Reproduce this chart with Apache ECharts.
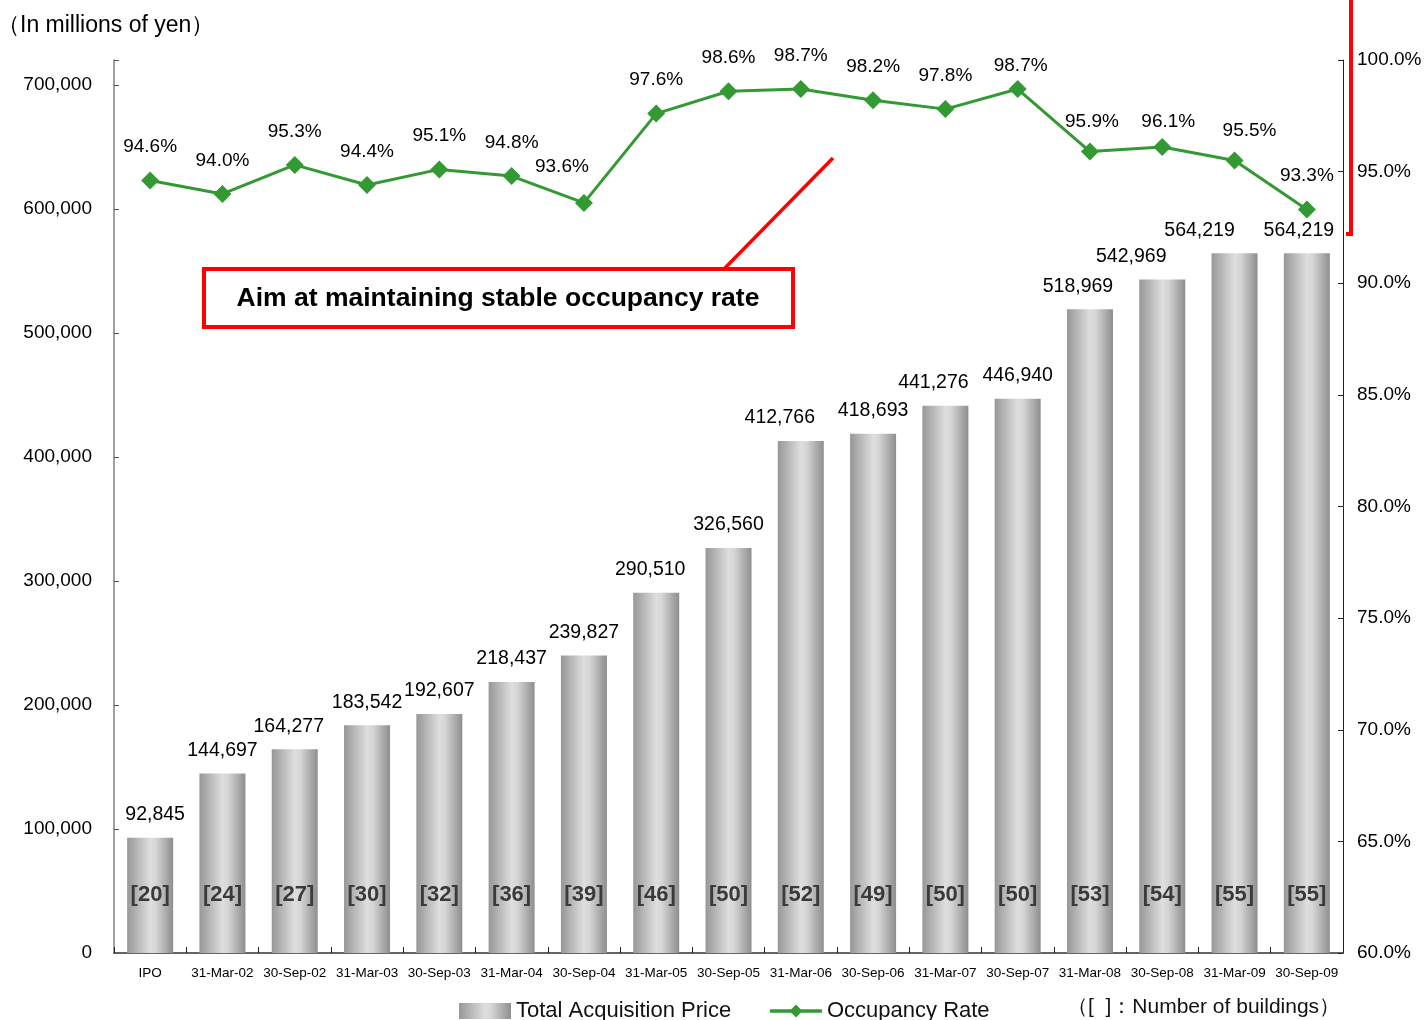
<!DOCTYPE html>
<html>
<head>
<meta charset="utf-8">
<title>Total Acquisition Price and Occupancy Rate</title>
<script src="https://cdn.jsdelivr.net/npm/echarts@6/dist/echarts.min.js"></script>
<style>
  html, body { margin: 0; padding: 0; background: #fff; }
  #chart { width: 1426px; height: 1020px; }
</style>
</head>
<body>
<div id="chart"></div>
<script>
// Period-end dates
const periods = ['IPO', '31-Mar-02', '30-Sep-02', '31-Mar-03', '30-Sep-03', '31-Mar-04',
  '30-Sep-04', '31-Mar-05', '30-Sep-05', '31-Mar-06', '30-Sep-06', '31-Mar-07',
  '30-Sep-07', '31-Mar-08', '30-Sep-08', '31-Mar-09', '30-Sep-09'];

// Total acquisition price (millions of yen)
const acquisitionPrice = [92845, 144697, 164277, 183542, 192607, 218437, 239827, 290510,
  326560, 412766, 418693, 441276, 446940, 518969, 542969, 564219, 564219];

// Number of buildings held
const buildings = [20, 24, 27, 30, 32, 36, 39, 46, 50, 52, 49, 50, 50, 53, 54, 55, 55];

// Occupancy rate (%)
const occupancyRate = [94.6, 94.0, 95.3, 94.4, 95.1, 94.8, 93.6, 97.6, 98.6, 98.7, 98.2,
  97.8, 98.7, 95.9, 96.1, 95.5, 93.3];

// Axis tick values
const priceTicks = [0, 100000, 200000, 300000, 400000, 500000, 600000, 700000];
const rateTicks = [60, 65, 70, 75, 80, 85, 90, 95, 100];

const FONT = "'Liberation Sans', Arial, sans-serif";
const GREEN = '#339933';

const chart = echarts.init(document.getElementById('chart'), null, { renderer: 'canvas' });

const barFill = new echarts.graphic.LinearGradient(0, 0, 1, 0, [
  { offset: 0, color: '#979797' },
  { offset: 0.5, color: '#dedede' },
  { offset: 0.62, color: '#d6d6d6' },
  { offset: 1, color: '#8e8e8e' }
]);

// a few hand-placed value labels sit a little off their bars
const priceLabelShift = { 0: 5, 9: -21, 11: -12, 13: -12, 14: -31, 15: -35, 16: -8, 7: -6, 2: -6 };
const rateLabelShift = { 6: [-22, -3], 12: [3, 10], 14: [6, 8], 15: [15, 4], 13: [2, 4] };

const fmtThousands = v => String(v).replace(/\B(?=(\d{3})+(?!\d))/g, ',');

const priceData = acquisitionPrice.map((v, i) => {
  const item = { value: v };
  if (priceLabelShift[i] !== undefined) item.label = { offset: [priceLabelShift[i], 0] };
  return item;
});

const rateData = occupancyRate.map((v, i) => {
  const item = { value: v };
  if (rateLabelShift[i]) item.label = { offset: rateLabelShift[i] };
  return item;
});

const option = {
  backgroundColor: '#ffffff',
  animation: false,
  textStyle: { fontFamily: FONT },
  grid: { left: 114, right: 83, top: 60, bottom: 67, containLabel: false },
  legend: {
    data: [
      { name: 'Total Acquisition Price', icon: 'rect' },
      { name: 'Occupancy Rate', lineStyle: { width: 3.5 } }
    ],
    left: 454,
    top: 995,
    itemWidth: 52,
    itemHeight: 16,
    itemGap: 37,
    textStyle: { fontFamily: FONT, fontSize: 22, color: '#111' }
  },
  xAxis: {
    type: 'category',
    data: periods,
    axisLine: { lineStyle: { color: '#333', width: 1.5 } },
    axisTick: { show: true, inside: true, length: 6, lineStyle: { color: '#222' } },
    axisLabel: { interval: 0, fontSize: 13.5, color: '#000', margin: 13, fontFamily: FONT }
  },
  yAxis: [
    {
      type: 'value',
      min: 0,
      max: 720000,
      interval: 100000,
      splitLine: { show: false },
      axisLine: { show: true, lineStyle: { color: '#808080', width: 1.5 } },
      axisTick: { show: true, inside: true, length: 5, lineStyle: { color: '#555' } },
      axisLabel: {
        fontSize: 19, color: '#000', margin: 22, fontFamily: FONT,
        formatter: v => priceTicks.includes(v) ? fmtThousands(v) : ''
      }
    },
    {
      type: 'value',
      min: 60,
      max: 100,
      interval: 5,
      position: 'right',
      splitLine: { show: false },
      axisLine: { show: true, lineStyle: { color: '#222', width: 1 } },
      axisTick: { show: true, inside: true, length: 5, lineStyle: { color: '#222' } },
      axisLabel: {
        fontSize: 19, color: '#000', margin: 14, fontFamily: FONT,
        formatter: v => rateTicks.includes(v) ? v.toFixed(1) + '%' : ''
      }
    }
  ],
  series: [
    {
      name: 'Total Acquisition Price',
      type: 'bar',
      yAxisIndex: 0,
      data: priceData,
      barWidth: 46,
      itemStyle: { color: barFill },
      label: {
        show: true,
        position: 'top',
        distance: 13,
        fontSize: 19.5,
        color: '#000',
        fontFamily: FONT,
        formatter: p => fmtThousands(p.value)
      },
      z: 2
    },
    {
      // transparent twin of the bars, carrying the building counts
      name: 'buildings',
      type: 'bar',
      yAxisIndex: 0,
      data: acquisitionPrice,
      barWidth: 46,
      barGap: '-100%',
      itemStyle: { color: 'rgba(0,0,0,0)' },
      label: {
        show: true,
        position: 'insideBottom',
        distance: 47,
        fontSize: 22,
        fontWeight: 'bold',
        color: '#3a3a3a',
        fontFamily: FONT,
        formatter: p => '[' + buildings[p.dataIndex] + ']'
      },
      silent: true,
      z: 3
    },
    {
      name: 'Occupancy Rate',
      type: 'line',
      yAxisIndex: 1,
      data: rateData,
      symbol: 'diamond',
      symbolSize: 18,
      lineStyle: { color: GREEN, width: 3 },
      itemStyle: { color: GREEN },
      label: {
        show: true,
        position: 'top',
        distance: 15,
        fontSize: 19,
        color: '#000',
        fontFamily: FONT,
        formatter: p => p.value.toFixed(1) + '%'
      },
      z: 5
    }
  ],
  graphic: [
    {
      type: 'text',
      left: -3,
      top: 14,
      style: { text: '（In millions of yen）', font: '23px ' + FONT, fill: '#000' }
    },
    {
      type: 'text',
      left: 1067,
      top: 997,
      style: { text: '（[  ]：Number of buildings）', font: '21px ' + FONT, fill: '#111' }
    },
    {
      // callout pointing at the occupancy line
      type: 'line',
      shape: { x1: 725, y1: 268, x2: 833, y2: 158 },
      style: { stroke: '#ff0000', lineWidth: 3.5 },
      z: 10
    },
    {
      type: 'rect',
      shape: { x: 204, y: 269, width: 589, height: 58 },
      style: { fill: '#ffffff', stroke: '#ff0000', lineWidth: 4 },
      z: 10
    },
    {
      type: 'text',
      x: 498,
      y: 299,
      style: {
        text: 'Aim at maintaining stable occupancy rate',
        font: 'bold 26.5px ' + FONT,
        fill: '#000',
        align: 'center',
        verticalAlign: 'middle'
      },
      z: 11
    },
    {
      // bracket marking the occupancy-rate band on the right axis
      type: 'polyline',
      shape: { points: [[1351, 0], [1351, 234], [1346, 234]] },
      style: { stroke: '#ff0000', lineWidth: 4, fill: null },
      z: 10
    }
  ]
};

chart.setOption(option);
</script>
</body>
</html>
